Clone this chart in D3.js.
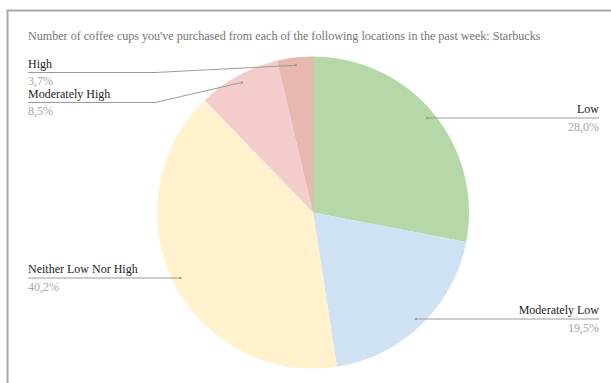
<!DOCTYPE html>
<html>
<head>
<meta charset="utf-8">
<script src="https://cdn.jsdelivr.net/npm/d3@7"></script>
<style>
  html, body { margin: 0; padding: 0; background: #fff; }
  svg { display: block; }
  .serif { font-family: "Liberation Serif", "Tinos", "DejaVu Serif", serif; }
</style>
</head>
<body>
<svg id="chart" width="611" height="383"></svg>
<script>
// Survey answers for Starbucks purchases, in drawing order (clockwise from 12 o'clock)
const categories = ["Low", "Moderately Low", "Neither Low Nor High", "Moderately High", "High"];
const shares = [28.0, 19.5, 40.2, 8.5, 3.7];
const colors = ["#b6d7a8", "#cfe2f3", "#fff2cc", "#f4cccc", "#e6b8af"];
const title = "Number of coffee cups you've purchased from each of the following locations in the past week: Starbucks";

const width = 611, height = 383;
const cx = 313, cy = 212.5, radius = 156;

const svg = d3.select("#chart");

// card frame
svg.append("rect")
  .attr("x", 7.5).attr("y", 10.5)
  .attr("width", width).attr("height", height)
  .attr("fill", "none")
  .attr("stroke", "#a8a8a8")
  .attr("stroke-width", 2);

svg.append("text")
  .attr("class", "serif")
  .attr("x", 28).attr("y", 40)
  .attr("font-size", 12.1)
  .attr("fill", "#757575")
  .text(title);

const data = categories.map((c, i) => ({ name: c, value: shares[i], color: colors[i] }));

const pie = d3.pie().value(d => d.value).sort(null);
const arcs = pie(data);
const arc = d3.arc().innerRadius(0).outerRadius(radius);
const anchorArc = d3.arc().innerRadius(radius * 0.95).outerRadius(radius * 0.95);

const g = svg.append("g").attr("transform", `translate(${cx},${cy})`);

g.selectAll("path.slice")
  .data(arcs)
  .join("path")
  .attr("class", "slice")
  .attr("d", arc)
  .attr("fill", d => d.data.color);

// leader line geometry: label row y, side, and optional elbow x
const fmt = v => v.toFixed(1).replace(".", ",") + "%";
const labelRows = {
  "Low": { y: 118, side: "right" },
  "Moderately Low": { y: 319, side: "right" },
  "Neither Low Nor High": { y: 278, side: "left" },
  "Moderately High": { y: 102.5, side: "left", elbow: 155 },
  "High": { y: 72.5, side: "left", elbow: 155 }
};
const leftX = 28, rightX = 599;

const labels = svg.append("g");
arcs.forEach(a => {
  const row = labelRows[a.data.name];
  const [px, py] = anchorArc.centroid(a);
  const ax = cx + px, ay = cy + py;
  const endX = row.side === "right" ? rightX : leftX;
  const pts = [[ax, ay]];
  if (row.elbow !== undefined) pts.push([row.elbow, row.y]);
  else pts[0] = [ax, row.y];
  pts.push([endX, row.y]);

  labels.append("path")
    .attr("d", d3.line()(pts))
    .attr("fill", "none")
    .attr("stroke", "#9a9a9a")
    .attr("stroke-width", 1);

  labels.append("circle")
    .attr("cx", pts[0][0]).attr("cy", pts[0][1]).attr("r", 1.2)
    .attr("fill", "#9a9a9a");

  const anchor = row.side === "right" ? "end" : "start";
  labels.append("text")
    .attr("class", "serif")
    .attr("x", endX).attr("y", row.y - 5)
    .attr("text-anchor", anchor)
    .attr("font-size", 12)
    .attr("fill", "#222")
    .text(a.data.name);
  labels.append("text")
    .attr("class", "serif")
    .attr("x", endX).attr("y", row.y + 12.5)
    .attr("text-anchor", anchor)
    .attr("font-size", 12)
    .attr("fill", "#a6a6a6")
    .text(fmt(a.data.value));
});
</script>
</body>
</html>
